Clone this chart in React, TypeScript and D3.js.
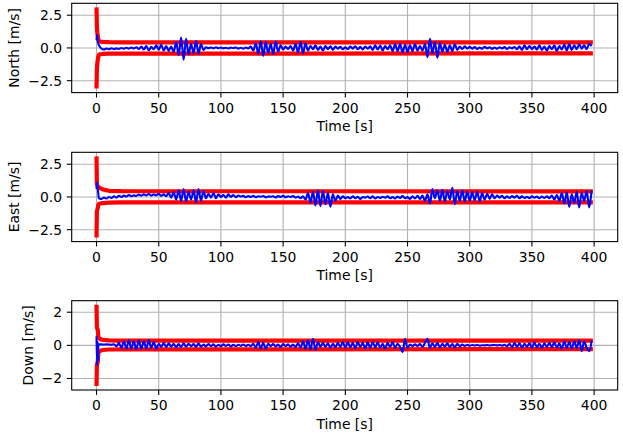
import React from "react";
import * as d3 from "d3";

// ---------- data ----------
const xTicks = [0, 50, 100, 150, 200, 250, 300, 350, 400];
const yTicksNE = [-2.5, 0, 2.5];
const yTicksD = [-2, 0, 2];
const yTickLabelsNE = ["\u22122.5", "0.0", "2.5"];
const yTickLabelsD = ["\u22122", "0", "2"];
const panelLabels = ["North [m/s]", "East [m/s]", "Down [m/s]"];

// early samples at t = 0, 0.5, 1, 1.5 ; then main samples every 2 s from t = 2 to 398
const tEarly = [0, 0.5, 1, 1.5];
const mainStart = 2;
const mainStep = 2;

const northEarly = [0.6, 1.0, 0.5, 0.3];
const northMain = [
  0.2, -0.05, -0.12, -0.04, -0.1, -0.02, -0.09, -0.03, -0.08, 0.0,
  -0.06, 0.02, -0.05, 0.03, -0.04, 0.05, -0.08, 0.1, -0.12, 0.15,
  -0.18, 0.08, -0.1, 0.2, -0.15, 0.25, -0.2, 0.15, -0.22, 0.1,
  -0.3, 0.45, -0.55, 0.8, -0.9, 0.7, -0.5, 0.3, -0.4, 0.55,
  -0.45, 0.3, -0.15, 0.05, -0.02, 0.04, -0.03, 0.05, -0.02, 0.03,
  -0.03, 0.02, -0.04, 0.03, -0.02, 0.04, -0.05, 0.02, -0.06, 0.03,
  -0.04, 0.1, -0.2, 0.35, -0.45, 0.5, -0.6, 0.45, -0.4, 0.3,
  -0.45, 0.5, -0.3, 0.2, -0.12, 0.1, -0.08, 0.15, -0.2, 0.3,
  -0.35, 0.45, -0.4, 0.35, -0.2, 0.15, -0.1, 0.2, -0.15, 0.1,
  -0.2, 0.15, -0.1, 0.12, -0.15, 0.1, -0.05, 0.08, -0.1, 0.05,
  -0.08, 0.1, -0.05, 0.12, -0.1, 0.08, -0.12, 0.1, -0.06, 0.12,
  -0.15, 0.2, -0.12, 0.18, -0.2, 0.15, -0.1, 0.2, -0.25, 0.3,
  -0.25, 0.3, -0.35, 0.25, -0.3, 0.2, -0.25, 0.3, -0.2, 0.15,
  -0.2, 0.3, -0.7, 0.7, -0.4, 0.45, -0.75, 0.4, -0.3, 0.25,
  -0.3, 0.2, -0.25, 0.3, -0.15, 0.1, -0.08, 0.12, -0.05, 0.08,
  -0.05, 0.06, -0.08, 0.04, -0.06, 0.08, -0.03, 0.05, -0.07, 0.04,
  -0.06, 0.05, -0.04, 0.06, -0.08, 0.05, -0.03, 0.07, -0.1, 0.12,
  -0.15, 0.2, -0.1, 0.15, -0.08, 0.1, -0.12, 0.2, -0.15, 0.1,
  -0.2, 0.15, -0.1, 0.2, -0.25, 0.15, -0.12, 0.25, -0.2, 0.3,
  -0.15, 0.2, -0.1, 0.28, -0.05, 0.2, -0.1, 0.3, 0.15,
];

const eastEarly = [0.6, 1.1, 0.7, 0.2];
const eastMain = [
  -0.1, -0.15, -0.05, -0.12, 0.0, -0.08, 0.05, -0.05, 0.08, 0.0,
  0.1, 0.03, 0.15, 0.05, 0.12, 0.08, 0.18, 0.1, 0.2, 0.12,
  0.22, 0.1, 0.2, 0.12, 0.25, 0.08, 0.2, 0.05, 0.3, -0.05,
  0.35, -0.2, 0.5, -0.3, 0.6, -0.35, 0.4, -0.2, 0.5, -0.4,
  0.6, -0.3, 0.45, -0.1, 0.25, -0.05, 0.3, -0.1, 0.2, 0.0,
  0.15, -0.05, 0.2, 0.0, 0.15, -0.02, 0.1, 0.03, 0.08, -0.02,
  0.06, 0.0, 0.08, -0.02, 0.05, 0.02, 0.07, -0.03, 0.04, 0.01,
  0.05, -0.04, 0.06, 0.0, 0.08, -0.02, 0.05, 0.0, 0.07, -0.05,
  0.03, -0.1, 0.05, -0.2, 0.3, -0.45, 0.4, -0.65, 0.5, -0.7,
  0.45, -0.55, 0.3, -0.75, 0.2, -0.3, 0.1, -0.15, 0.05, -0.1,
  0.0, -0.12, 0.05, -0.1, 0.02, -0.15, 0.0, -0.05, 0.03, -0.1,
  0.05, -0.12, 0.0, -0.08, 0.02, -0.06, 0.05, -0.1, 0.0, -0.12,
  0.03, -0.08, 0.06, -0.1, 0.0, -0.15, 0.05, -0.12, 0.08, -0.15,
  0.1, -0.3, 0.2, -0.5, 0.6, -0.1, 0.5, -0.3, 0.55, -0.35,
  0.45, -0.2, 0.7, -0.55, 0.45, -0.3, 0.5, -0.35, 0.4, -0.3,
  0.35, -0.25, 0.4, -0.35, 0.3, -0.2, 0.25, -0.15, 0.2, -0.1,
  0.1, -0.05, 0.08, -0.1, 0.05, -0.08, 0.06, -0.05, 0.08, -0.1,
  0.05, -0.08, 0.02, -0.1, 0.05, -0.06, 0.03, -0.1, 0.04, -0.08,
  0.05, -0.1, 0.1, -0.2, 0.15, -0.3, 0.3, -0.5, 0.35, -0.75,
  0.2, -0.45, 0.4, -0.8, 0.3, -0.3, 0.45, -0.8, 0.5,
];

const downEarly = [0.55, -1.2, 0.2, -0.9];
const downMain = [
  0.05, 0.06, 0.05, 0.06, 0.05, 0.04, 0.06, -0.05, 0.15, -0.15,
  0.25, -0.2, 0.3, -0.2, 0.25, -0.25, 0.3, -0.2, 0.25, -0.2,
  0.3, -0.15, 0.2, -0.2, 0.1, -0.1, 0.15, -0.1, 0.12, -0.08,
  0.1, -0.12, 0.08, -0.1, 0.12, -0.08, 0.1, -0.05, 0.08, -0.1,
  0.12, -0.08, 0.05, -0.06, 0.08, -0.05, 0.06, -0.08, 0.04, -0.05,
  0.06, -0.04, 0.05, -0.06, 0.03, -0.05, 0.04, -0.03, 0.05, -0.04,
  0.04, -0.05, 0.1, -0.15, 0.2, -0.18, 0.15, -0.2, 0.1, -0.05,
  0.08, -0.06, 0.05, -0.1, 0.08, -0.05, 0.06, -0.08, 0.05, -0.1,
  0.12, -0.15, 0.25, -0.2, 0.3, -0.25, 0.4, -0.28, 0.2, -0.1,
  0.15, -0.1, 0.12, -0.15, 0.1, -0.12, 0.15, -0.1, 0.2, -0.15,
  0.2, -0.12, 0.15, -0.18, 0.2, -0.1, 0.15, -0.2, 0.18, -0.15,
  0.2, -0.12, 0.18, -0.15, 0.1, -0.2, 0.15, -0.1, 0.2, -0.15,
  0.1, -0.1, -0.4, 0.4, -0.15, 0.05, -0.05, 0.06, -0.04, 0.08,
  -0.1, 0.15, 0.4, -0.15, 0.12, -0.1, 0.15, -0.12, 0.1, -0.08,
  0.12, -0.1, 0.08, -0.12, 0.1, -0.06, 0.05, -0.04, 0.03, -0.02,
  0.02, -0.01, 0.02, -0.02, 0.01, 0.0, 0.02, -0.01, 0.01, 0.02,
  0.0, 0.02, -0.02, 0.03, -0.05, 0.1, -0.12, 0.15, -0.1, 0.12,
  -0.15, 0.1, -0.08, 0.12, -0.15, 0.18, -0.12, 0.1, -0.15, 0.12,
  -0.1, 0.15, -0.12, 0.2, -0.15, 0.12, -0.2, 0.25, -0.15, 0.2,
  -0.2, 0.25, -0.15, 0.3, -0.35, 0.25, -0.15, -0.35, 0.3,
];

// error bounds (red)
const tBound = [0, 0.3, 0.6, 1, 1.5, 2, 3, 5, 10, 20, 399];
const northUpper = [3.1, 1.6, 1.2, 0.9, 0.65, 0.52, 0.48, 0.46, 0.44, 0.43, 0.42];
const northLower = [-3.1, -1.6, -1.2, -0.9, -0.65, -0.52, -0.48, -0.46, -0.44, -0.43, -0.42];
const eastUpper = [3.1, 1.0, 0.9, 0.8, 0.75, 0.72, 0.68, 0.58, 0.47, 0.44, 0.42];
const eastLower = [-3.1, -1.1, -1.0, -0.85, -0.6, -0.52, -0.5, -0.47, -0.44, -0.42, -0.41];
const downUpper = [2.45, 1.1, 1.0, 0.95, 0.5, 0.42, 0.38, 0.33, 0.3, 0.29, 0.28];
const downLower = [-2.45, -1.2, -1.1, -1.0, -0.45, -0.38, -0.33, -0.28, -0.25, -0.24, -0.23];

// ---------- layout ----------
const W = 623;
const H = 437;
const LEFT = 71.7;
const RIGHT = 617.7;
const PANEL_H = 89.3;
const TOPS = [3.3, 152.3, 300.7];
const FONT = "DejaVu Sans, sans-serif";
const FS = 13.9;

type Pt = [number, number];

function series(early: number[], main: number[]): Pt[] {
  const pts: Pt[] = early.map((v, i) => [tEarly[i], v] as Pt);
  main.forEach((v, i) => pts.push([mainStart + mainStep * i, v]));
  return pts;
}

function bound(vals: number[]): Pt[] {
  return vals.map((v, i) => [tBound[i], v] as Pt);
}

interface PanelProps {
  idx: number;
  label: string;
  blue: Pt[];
  upper: Pt[];
  lower: Pt[];
  yTicks: number[];
  yTickLabels: string[];
}

function Panel({ idx, label, blue, upper, lower, yTicks, yTickLabels }: PanelProps) {
  const top = TOPS[idx];
  const bottom = top + PANEL_H;
  const allY = [...blue, ...upper, ...lower].map((p) => p[1]);
  const [ymin, ymax] = d3.extent(allY) as [number, number];
  const ym = (ymax - ymin) * 0.05;
  const xmin = 0;
  const xmax = 399;
  const xm = (xmax - xmin) * 0.05;
  const x = d3.scaleLinear().domain([xmin - xm, xmax + xm]).range([LEFT, RIGHT]);
  const y = d3.scaleLinear().domain([ymin - ym, ymax + ym]).range([bottom, top]);
  const redLine = d3
    .line<Pt>()
    .x((d) => x(d[0]))
    .y((d) => y(d[1]));
  const blueLine = d3
    .line<Pt>()
    .x((d) => x(d[0]))
    .y((d) => y(d[1]))
    .curve(d3.curveCatmullRom.alpha(0.5));
  const clipId = `clip${idx}`;
  return (
    <g>
      <defs>
        <clipPath id={clipId}>
          <rect x={LEFT} y={top} width={RIGHT - LEFT} height={PANEL_H} />
        </clipPath>
      </defs>
      {/* grid */}
      <g stroke="#b0b0b0" strokeWidth={1.1}>
        {xTicks.map((t) => (
          <line key={"gx" + t} x1={x(t)} x2={x(t)} y1={top} y2={bottom} />
        ))}
        {yTicks.map((t) => (
          <line key={"gy" + t} x1={LEFT} x2={RIGHT} y1={y(t)} y2={y(t)} />
        ))}
      </g>
      <g clipPath={`url(#${clipId})`} fill="none" strokeLinejoin="round" strokeLinecap="butt">
        <path d={redLine(upper) || ""} stroke="#ff0000" strokeWidth={4.2} />
        <path d={redLine(lower) || ""} stroke="#ff0000" strokeWidth={4.2} />
        <path d={blueLine(blue) || ""} stroke="#0000ff" strokeWidth={2.1} />
      </g>
      {/* spines */}
      <rect x={LEFT} y={top} width={RIGHT - LEFT} height={PANEL_H} fill="none" stroke="#000" strokeWidth={1.1} />
      {/* ticks */}
      <g stroke="#000" strokeWidth={1.1}>
        {xTicks.map((t) => (
          <line key={"tx" + t} x1={x(t)} x2={x(t)} y1={bottom} y2={bottom + 4.9} />
        ))}
        {yTicks.map((t) => (
          <line key={"ty" + t} x1={LEFT} x2={LEFT - 4.9} y1={y(t)} y2={y(t)} />
        ))}
      </g>
      <g fontFamily={FONT} fontSize={FS} fill="#000">
        {xTicks.map((t) => (
          <text key={"lx" + t} x={x(t)} y={bottom + 20} textAnchor="middle">
            {String(t)}
          </text>
        ))}
        {yTicks.map((t, i) => (
          <text key={"ly" + t} x={LEFT - 9.7} y={y(t)} dy="0.36em" textAnchor="end">
            {yTickLabels[i]}
          </text>
        ))}
        <text x={(LEFT + RIGHT) / 2} y={bottom + 38.5} textAnchor="middle">
          Time [s]
        </text>
        <text
          transform={`translate(${idx === 2 ? 32.5 : 19}, ${(top + bottom) / 2}) rotate(-90)`}
          textAnchor="middle"
        >
          {label}
        </text>
      </g>
    </g>
  );
}

export default function App() {
  const north = series(northEarly, northMain);
  const east = series(eastEarly, eastMain);
  const down = series(downEarly, downMain);
  return (
    <svg
      width={W}
      height={H}
      viewBox={`0 0 ${W} ${H}`}
      style={{ position: "absolute", left: 0, top: 0, background: "#fff" }}
    >
      <rect x={0} y={0} width={W} height={H} fill="#fff" />
      <Panel idx={0} label={panelLabels[0]} blue={north} upper={bound(northUpper)} lower={bound(northLower)} yTicks={yTicksNE} yTickLabels={yTickLabelsNE} />
      <Panel idx={1} label={panelLabels[1]} blue={east} upper={bound(eastUpper)} lower={bound(eastLower)} yTicks={yTicksNE} yTickLabels={yTickLabelsNE} />
      <Panel idx={2} label={panelLabels[2]} blue={down} upper={bound(downUpper)} lower={bound(downLower)} yTicks={yTicksD} yTickLabels={yTickLabelsD} />
    </svg>
  );
}
